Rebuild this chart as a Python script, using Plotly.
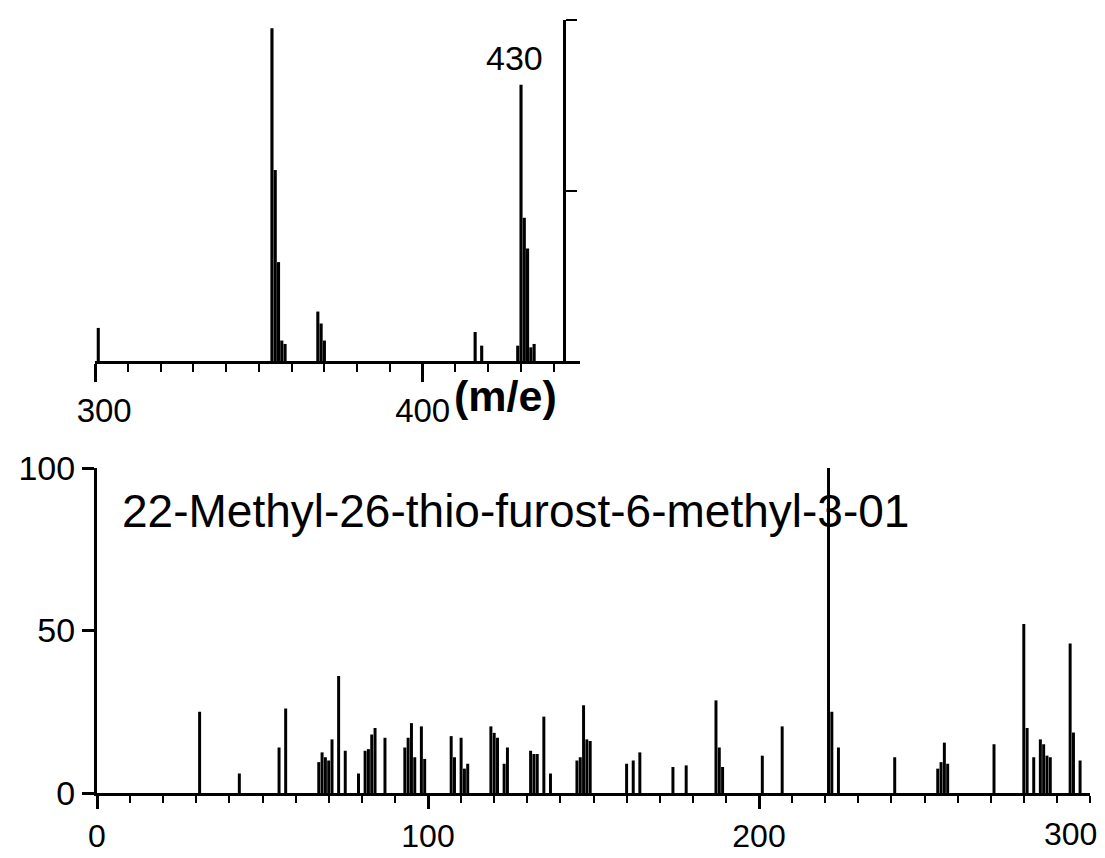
import plotly.graph_objects as go

# ---------------- data ----------------
# lower panel: full spectrum m/e 0-300 (relative intensity %)
lower_mz = [31, 43, 55, 57, 67, 68, 69, 70, 71, 73, 75, 79, 81, 82, 83, 84, 87,
            93, 94, 95, 96, 98, 99, 107, 108, 110, 111, 112, 119, 120, 121, 123, 124,
            131, 132, 133, 135, 137, 145, 146, 147, 148, 149, 160, 162, 164, 174, 178,
            187, 188, 189, 201, 207, 221, 222, 224, 241, 254, 255, 256, 257, 271,
            280, 281, 283, 285, 286, 287, 288, 294, 295, 297]
lower_int = [25, 6, 14, 26, 9.5, 12.5, 11, 10, 16.5, 36, 13, 6, 13, 13.5, 18, 20, 17,
             14, 17, 21.5, 11, 20.5, 10.5, 17.5, 11, 17, 7.5, 9, 20.5, 18.5, 17, 9, 14,
             13, 12, 12, 23.5, 6, 10, 11, 27, 16.5, 16, 9, 10, 12.5, 8, 8.5,
             28.5, 14, 8, 11.5, 20.5, 100, 25, 14, 11, 7.5, 9.5, 15.5, 9, 15,
             52, 20, 11, 16.5, 15, 11.5, 11, 46, 18.6, 10]

# upper panel: m/e 300-448 (expanded intensity scale)
upper_mz = [301, 354, 355, 356, 357, 358, 368, 369, 370, 416, 418,
            429, 430, 431, 432, 433, 434]
upper_int = [9.7, 97.6, 56, 29, 6, 5, 14.5, 11, 6, 8.5, 4.5,
             4.5, 81, 42, 33, 4, 5]

NB = "&nbsp;"
lower_tickvals = [0, 50, 100, 150, 200, 250, 300]
lower_ticktext = ["0", "", "100", "", "200", "", ""]
lower_last_label = "300"          # drawn as annotation (kept inside the page)
lower_minor = list(range(0, 301, 10))
lower_yticks = [0, 50, 100]
lower_yticktext = ["0", "50", "100"]

upper_tickvals = [300, 350, 400]
upper_ticktext = [NB * 2 + "300", "", "400"]
upper_minor = list(range(300, 441, 10))

title_text = "22-Methyl-26-thio-furost-6-methyl-3-01"

# ---------------- figure ----------------
OX, OY = 8, 8                 # page (body) margin offset
W, H = 1105 - OX, 858 - OY
FONT = "Liberation Sans, Arial, Helvetica, sans-serif"

def px_x(p):
    return (p - OX) / W

def px_y(p):
    return 1 - (p - OY) / H

fig = go.Figure()
fig.add_trace(go.Bar(x=lower_mz, y=lower_int, width=0.9,
                     marker=dict(color="black", line=dict(width=0)),
                     xaxis="x", yaxis="y", showlegend=False, hoverinfo="x+y"))
fig.add_trace(go.Bar(x=upper_mz, y=upper_int, width=0.95,
                     marker=dict(color="black", line=dict(width=0)),
                     xaxis="x2", yaxis="y2", showlegend=False, hoverinfo="x+y"))

fig.update_layout(
    width=W, height=H, margin=dict(l=0, r=0, t=0, b=0, autoexpand=False),
    paper_bgcolor="white", plot_bgcolor="rgba(0,0,0,0)",
    barmode="overlay", showlegend=False,
    font=dict(family=FONT, color="black", size=34),
    xaxis=dict(
        domain=[px_x(97), px_x(1090)], range=[0, 300], anchor="y", automargin=False,
        showgrid=False, zeroline=False, showline=True, linecolor="black", linewidth=3,
        tickmode="array", tickvals=lower_tickvals, ticktext=lower_ticktext,
        ticks="outside", ticklen=13, tickwidth=3, tickcolor="black",
        tickfont=dict(size=32, family=FONT),
        minor=dict(tickmode="array", tickvals=lower_minor, ticks="outside",
                   ticklen=7, tickwidth=2, tickcolor="black", showgrid=False),
    ),
    yaxis=dict(
        domain=[px_y(793), px_y(468)], range=[0, 100], anchor="x", automargin=False,
        showgrid=False, zeroline=False, showline=True, linecolor="black", linewidth=3,
        tickmode="array", tickvals=lower_yticks, ticktext=lower_yticktext,
        ticks="outside", ticklen=12, tickwidth=3, tickcolor="black",
        tickfont=dict(size=34, family=FONT),
    ),
    xaxis2=dict(
        domain=[px_x(95), px_x(580)], range=[300, 448], anchor="y2", automargin=False,
        showgrid=False, zeroline=False, showline=True, linecolor="black", linewidth=3,
        tickmode="array", tickvals=upper_tickvals, ticktext=upper_ticktext,
        ticks="outside", ticklen=18, tickwidth=3, tickcolor="black",
        ticklabeloverflow="allow",
        tickfont=dict(size=33, family=FONT),
        minor=dict(tickmode="array", tickvals=upper_minor, ticks="outside",
                   ticklen=8, tickwidth=2, tickcolor="black", showgrid=False),
    ),
    yaxis2=dict(
        domain=[px_y(361), px_y(20)], range=[0, 100], anchor="free", automargin=False,
        position=px_x(95 + 143 * 485 / 148), side="right",
        showgrid=False, zeroline=False, showline=True, linecolor="black", linewidth=3,
        tickmode="array", tickvals=[50, 100], showticklabels=False,
        ticks="outside", ticklen=11, tickwidth=2, tickcolor="black",
    ),
    annotations=[
        dict(text=title_text, xref="paper", yref="paper",
             x=px_x(120), y=px_y(511), xanchor="left", yanchor="middle",
             showarrow=False, font=dict(size=46, family=FONT, color="black")),
        dict(text="430", xref="x2", yref="y2", x=428, y=89,
             xanchor="center", yanchor="middle", showarrow=False,
             font=dict(size=34, family=FONT, color="black")),
        dict(text="<b>(m/e)</b>", xref="paper", yref="paper",
             x=px_x(452), y=px_y(396), xanchor="left", yanchor="middle",
             showarrow=False, font=dict(size=43, family=FONT, color="black")),
        dict(text=lower_last_label, xref="x", yref="paper", x=300, xshift=-20,
             y=px_y(834), xanchor="center", yanchor="middle", showarrow=False,
             font=dict(size=32, family=FONT, color="black")),
    ],
)

fig.write_html("out.html")
